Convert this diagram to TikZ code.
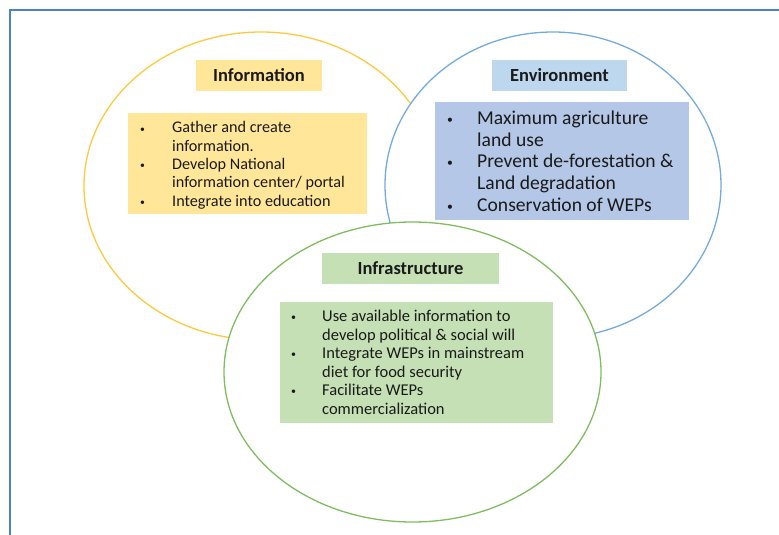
\documentclass[tikz,border=0pt]{standalone}
\usepackage{fontspec}
\usepackage{graphicx}
\setmainfont{Carlito}
\usetikzlibrary{shapes.geometric}
\definecolor{frameblue}{HTML}{4F80C6}
\definecolor{ringyellow}{HTML}{FFC940}
\definecolor{ringblue}{HTML}{74ABDD}
\definecolor{ringgreen}{HTML}{80BD60}
\definecolor{fillyellow}{HTML}{FFE699}
\definecolor{fillbluetitle}{HTML}{BDD7EE}
\definecolor{fillblue}{HTML}{B4C7E7}
\definecolor{fillgreen}{HTML}{C5E0B4}
\definecolor{txt}{HTML}{1A1A1A}
\tikzset{
  ring/.style={ellipse, draw, fill=white, line width=1.3pt, inner sep=0pt},
  titlebox/.style={rectangle, inner sep=0pt, minimum height=31pt, text=txt,
    font=\fontsize{18.5}{20}\selectfont\bfseries},
  listbox/.style={rectangle, inner sep=0pt},
  listtext/.style={anchor=north west, inner sep=0pt, align=left, text=txt}
}
\newcommand{\bul}[1]{\makebox[#1][l]{\hspace*{1pt}\raisebox{0.12ex}{\scalebox{0.6}{\textbullet}}}}
\begin{document}
\begin{tikzpicture}[x=1pt,y=-1pt]
\useasboundingbox (0,0) rectangle (779,535);
% frame
\coordinate (fr1) at (779,10);
\coordinate (fr2) at (10,10);
\coordinate (fr3) at (10,535);
\draw[frameblue, line width=2pt] (fr1) -- (fr2) -- (fr3);
% rings
\node[ring, draw=ringyellow, minimum width=354pt, minimum height=308pt] (cinfo) at (261,186) {};
\node[ring, draw=ringblue, minimum width=336pt, minimum height=306pt] (cenv) at (553,185) {};
\node[ring, draw=ringgreen, minimum width=377pt, minimum height=300pt] (cinfra) at (412.5,372) {};
% Information
\node[titlebox, fill=fillyellow, minimum width=126pt] (tinfo) at (259,75.5) {Information};
\node[listbox, fill=fillyellow, minimum width=239pt, minimum height=101pt] (binfo) at (247.5,163.5) {};
\node[listtext, font=\fontsize{16.2}{18.3}\selectfont] (linfo) at (139,121.5) {%
\bul{33pt}Gather and create\\
\hspace*{33pt}information.\\
\bul{33pt}Develop National\\
\hspace*{33pt}information center/ portal\\
\bul{33pt}Integrate into education};
% Environment
\node[titlebox, fill=fillbluetitle, minimum width=135pt] (tenv) at (559.5,75.5) {Environment};
\node[listbox, fill=fillblue, minimum width=254pt, minimum height=118pt] (benv) at (562,161) {};
\node[listtext, font=\fontsize{19.6}{21.8}\selectfont] (lenv) at (446,110.5) {%
\bul{31pt}Maximum agriculture\\
\hspace*{31pt}land use\\
\bul{31pt}Prevent de-forestation \&\\
\hspace*{31pt}Land degradation\\
\bul{31pt}Conservation of WEPs};
% Infrastructure
\node[titlebox, fill=fillgreen, minimum width=177pt] (tinfra) at (410.5,268.5) {Infrastructure};
\node[listbox, fill=fillgreen, minimum width=273pt, minimum height=121pt] (binfra) at (416.5,362.5) {};
\node[listtext, font=\fontsize{16.5}{18.5}\selectfont] (linfra) at (290,310) {%
\bul{32pt}Use available information to\\
\hspace*{32pt}develop political \& social will\\
\bul{32pt}Integrate WEPs in mainstream\\
\hspace*{32pt}diet for food security\\
\bul{32pt}Facilitate WEPs\\
\hspace*{32pt}commercialization};
\end{tikzpicture}
\end{document}
